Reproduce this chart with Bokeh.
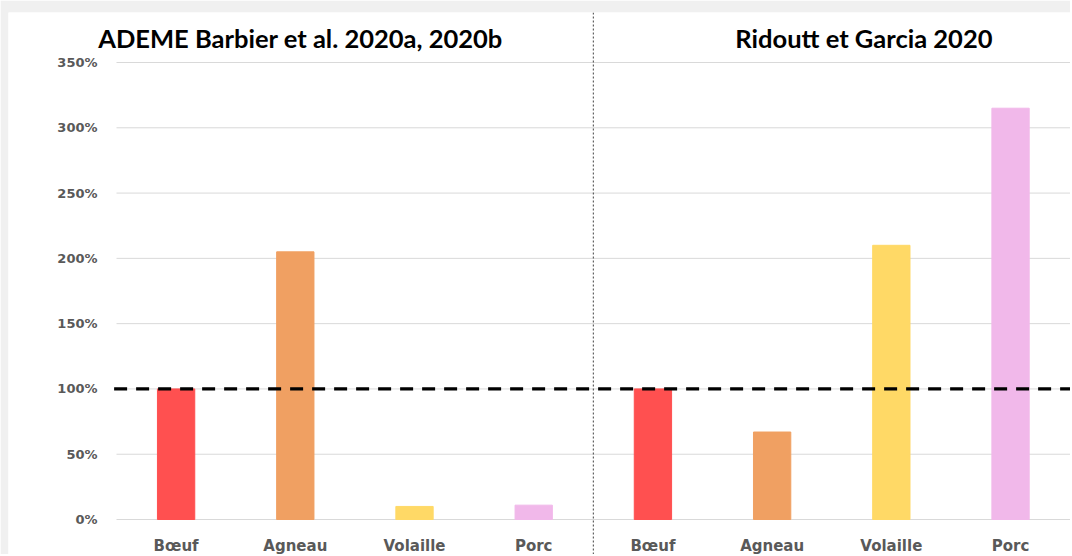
from bokeh.plotting import figure
from bokeh.models import ColumnDataSource, Range1d, Span, Label
from bokeh.core.properties import value
from bokeh.embed import file_html
from bokeh.resources import INLINE

# ---- data ----
categories = ["Bœuf", "Agneau", "Volaille", "Porc"]
studies = ["ADEME Barbier et al. 2020a, 2020b", "Ridoutt et Garcia 2020"]
ademe_values = [100, 205, 10, 11]       # % relative to beef
ridoutt_values = [100, 67, 210, 315]    # % relative to beef
colors = ["#FF5050", "#F0A062", "#FFD966", "#F1B8EA"]
y_ticks = [0, 50, 100, 150, 200, 250, 300, 350]
y_tick_labels = ["0%", "50%", "100%", "150%", "200%", "250%", "300%", "350%"]
reference_level = 100

n = len(categories)
x_end = 8.003
xs = [i + 0.5 for i in range(2 * n)]
src = ColumnDataSource(dict(
    x=xs,
    top=ademe_values + ridoutt_values,
    color=colors + colors,
    label=categories + categories,
    ly=[-20.5] * (2 * n),
))
grid_src = ColumnDataSource(dict(
    y=y_ticks,
    x0=[0] * len(y_ticks),
    x1=[x_end] * len(y_ticks),
    lx=[-0.1594] * len(y_ticks),
    label=y_tick_labels,
))

p = figure(width=1070, height=554, output_backend="svg", toolbar_location=None,
           x_range=Range1d(-0.906, x_end), y_range=Range1d(-26.8, 388.3),
           min_border_left=8, min_border_right=0, min_border_top=12, min_border_bottom=0)
p.outline_line_color = None
p.border_fill_color = "#F0F0F0"
p.background_fill_color = "white"
p.axis.visible = False
p.grid.visible = False

# horizontal gridlines and tick labels
p.segment(x0="x0", x1="x1", y0="y", y1="y", source=grid_src, line_color="#D9D9D9", line_width=1)
p.text(x="lx", y="y", text="label", source=grid_src, text_align="right", text_baseline="middle",
       text_font=value("DejaVu Sans"), text_font_style="bold", text_font_size="13px",
       text_color="#595959")

# bars
p.vbar(x="x", top="top", bottom=0, width=0.313, color="color", source=src)

# category labels
p.text(x="x", y="ly", text="label", source=src, text_align="center", text_baseline="middle",
       text_font=value("DejaVu Sans"), text_font_style="bold", text_font_size="15px",
       text_color="#595959")

# reference line at 100 %
p.segment(x0=[-0.02], x1=[x_end], y0=[reference_level], y1=[reference_level],
          line_color="black", line_width=3.3, line_dash="13 9")

# divider between the two studies
p.add_layout(Span(location=n, dimension="height", line_color="#404040",
                  line_width=1, line_dash="2 2"))

p.add_layout(Label(x=1.544, y=368.5, text=studies[0], text_align="center", text_baseline="middle",
                   text_font="Lato", text_font_style="bold", text_font_size="25.5px",
                   text_color="black"))
p.add_layout(Label(x=6.27, y=368.5, text=studies[1], text_align="center", text_baseline="middle",
                   text_font="Lato", text_font_style="bold", text_font_size="25.5px",
                   text_color="black"))

open("out.html", "w").write(file_html(p, INLINE))
